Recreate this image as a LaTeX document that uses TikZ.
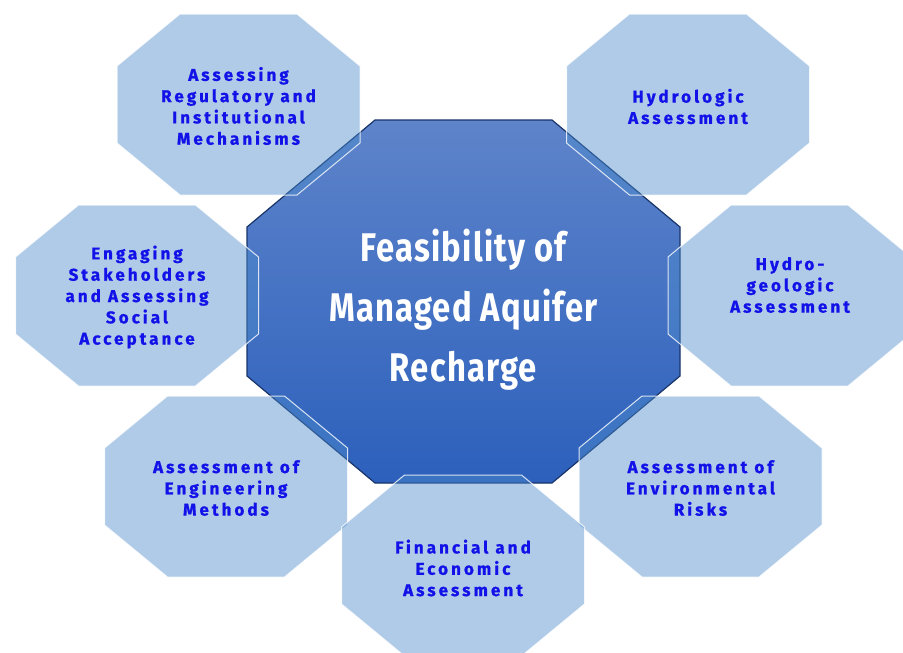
\documentclass[tikz,border=0pt]{standalone}
\usepackage{fontspec}

\newfontfamily\spokefont[LetterSpace=18,FakeBold=1]{Fira Sans}
\newfontfamily\hubfont[FakeStretch=0.82,LetterSpace=3]{Fira Sans}

\definecolor{hubtop}{RGB}{94,132,202}
\definecolor{hubbottom}{RGB}{44,96,188}
\definecolor{hubline}{RGB}{24,52,104}
\definecolor{spokefill}{RGB}{77,139,204}
\definecolor{spoketext}{RGB}{18,18,232}

% octagon: [style] centre x, centre y, half width, half height, cut x, cut y
\newcommand{\octpath}[7][]{%
  \path[#1] (#2-#4+#6,#3-#5) -- (#2+#4-#6,#3-#5) -- (#2+#4,#3-#5+#7) -- (#2+#4,#3+#5-#7)
    -- (#2+#4-#6,#3+#5) -- (#2-#4+#6,#3+#5) -- (#2-#4,#3+#5-#7) -- (#2-#4,#3-#5+#7) -- cycle;}

\begin{document}
\begin{tikzpicture}[x={(1pt,0pt)},y={(0pt,-1pt)},
  hub/.style={top color=hubtop, bottom color=hubbottom, draw=hubline, line width=1.2pt},
  hubtext/.style={text=white, align=center, inner sep=0pt, font=\hubfont\bfseries\fontsize{40}{60}\selectfont},
  spoke/.style={fill=spokefill, fill opacity=0.45, draw=white, draw opacity=0.8, line width=1pt},
  spoketext/.style={text=spoketext, align=center, inner sep=0pt, font=\spokefont\bfseries\fontsize{17}{21.3}\selectfont}]

\clip (0,0) rectangle (903,653);

% centre
\octpath[hub]{463.5}{301.5}{216.5}{181.5}{128}{107}
\node[hubtext] (mar) at (463.5,310) {Feasibility of\\Managed Aquifer\\Recharge};

% the seven parts around it
\octpath[spoke]{238.5}{104.5}{121.5}{90.5}{63}{52}
\node[spoketext] (reg) at (238.5,106) {Assessing\\Regulatory and\\Institutional\\Mechanisms};

\octpath[spoke]{688}{104.5}{121.5}{90.5}{63}{52}
\node[spoketext] (hydro) at (688,106.5) {Hydrologic\\Assessment};

\octpath[spoke]{137}{295.5}{121.5}{90.5}{63}{52}
\node[spoketext] (stake) at (137,297) {Engaging\\Stakeholders\\and Assessing\\Social\\Acceptance};

\octpath[spoke]{789.5}{295.5}{121.5}{90.5}{63}{52}
\node[spoketext] (geo) at (790,285) {Hydro-\\geologic\\Assessment};

\octpath[spoke]{226}{486.5}{121.5}{90.5}{63}{52}
\node[spoketext] (eng) at (226,488) {Assessment of\\Engineering\\Methods};

\octpath[spoke]{700.5}{486.5}{121.5}{90.5}{63}{52}
\node[spoketext] (env) at (700.5,488) {Assessment of\\Environmental\\Risks};

\octpath[spoke]{463}{565.5}{121.5}{90.5}{63}{52}
\node[spoketext] (fin) at (463,568) {Financial and\\Economic\\Assessment};
\end{tikzpicture}
\end{document}
